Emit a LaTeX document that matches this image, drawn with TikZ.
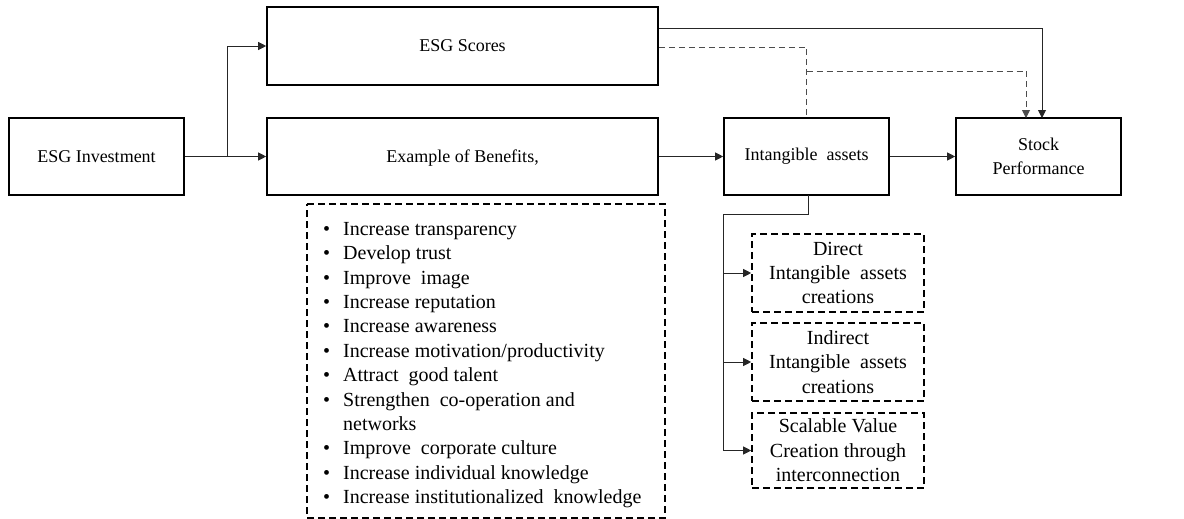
\documentclass[tikz,border=0pt]{standalone}
\usepackage{fontspec}
\setmainfont{Liberation Serif}
\usetikzlibrary{arrows.meta}
\begin{document}
\begin{tikzpicture}[x=1pt,y=-1pt,
  every node/.style={inner sep=0pt},
  big/.style={font=\fontsize{18}{24.4}\selectfont},
  small/.style={font=\fontsize{20}{24.4}\selectfont},
  box/.style={draw, big, line width=1.6pt, align=center},
  dbox/.style={draw, small, line width=1.6pt, dash pattern=on 7pt off 4pt, align=center},
  link/.style={draw=black!85, line width=0.9pt},
  dlink/.style={draw=black!70, line width=0.9pt, dash pattern=on 6pt off 4pt},
  tip/.style={-{Triangle[length=8pt,width=8pt]}}]
\useasboundingbox (0,0) rectangle (1184,519);

% main boxes
\node[box, minimum width=175pt, minimum height=77pt] (inv) at (96.5,156.5) {ESG Investment};
\node[box, minimum width=391pt, minimum height=78pt] (sco) at (462.5,46) {ESG Scores};
\node[box, minimum width=391pt, minimum height=77pt, text depth=0pt] (ben) at (462.5,156.5) {Example of Benefits,};
\node[box, minimum width=165pt, minimum height=77pt] (int) at (806.5,156.5) {Intangible\ \ assets};
\node[box, minimum width=165pt, minimum height=77pt] (stk) at (1038.5,156.5) {Stock\\Performance};

% list of benefits
\draw[dbox] (307,204) -- (665,204) -- (665,518) -- (307,518) -- cycle;
\newcommand{\bitem}[1]{\hbox to 20pt{\textbullet\hfil}#1}
\node[small, anchor=north west, align=left] (lst) at (323,222) {%
\bitem{Increase transparency}\\
\bitem{Develop trust}\\
\bitem{Improve\ \ image}\\
\bitem{Increase reputation}\\
\bitem{Increase awareness}\\
\bitem{Increase motivation/productivity}\\
\bitem{Attract\ \ good talent}\\
\bitem{Strengthen\ \ co-operation and}\\
\hbox to 20pt{\hfil}networks\\
\bitem{Improve\ \ corporate culture}\\
\bitem{Increase individual knowledge}\\
\bitem{Increase institutionalized\ \ knowledge}};

% kinds of intangible asset creation
\node[dbox, minimum width=172pt, minimum height=78pt] (d1) at (838,273) {Direct\\Intangible\ \ assets\\creations};
\node[dbox, minimum width=172pt, minimum height=78pt] (d2) at (838,362) {Indirect\\Intangible\ \ assets\\creations};
\node[dbox, minimum width=172pt, minimum height=75pt] (d3) at (838,450.5) {Scalable Value\\Creation through\\interconnection};

% connectors
\coordinate (split) at (227,156.5);
\draw[link] (inv.east) -- (split);
\draw[link, tip] (split) |- (sco.west);
\draw[link, tip] (split) -- (ben.west);
\draw[link, tip] (ben.east) -- (int.west);
\draw[link, tip] (int.east) -- (stk.west);

\coordinate (s1) at (sco.east |- 0,28);
\coordinate (s2) at (sco.east |- 0,47);
\coordinate (sx) at (1042,118);
\coordinate (dx) at (1026,118);
\coordinate (fork) at (int.north |- 0,71);
\draw[link, tip] (s1) -| (sx);
\draw[dlink] (s2) -| (int.north);
\draw[dlink, tip] (fork) -| (dx);

\coordinate (down) at (808,214);
\coordinate (rail) at (723,214);
\draw[link] (808,195) -- (down) -- (rail);
\draw[link, tip] (rail) |- (d1.west);
\draw[link, tip] (rail) |- (d2.west);
\draw[link, tip] (rail) |- (d3.west);
\end{tikzpicture}
\end{document}
